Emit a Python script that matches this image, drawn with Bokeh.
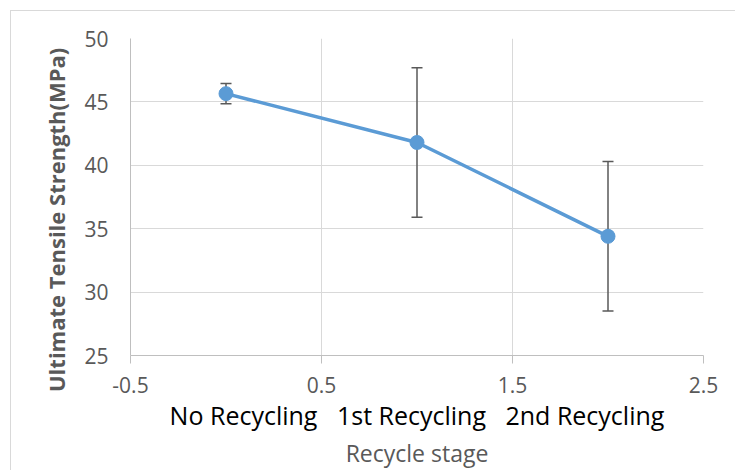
from bokeh.plotting import figure
from bokeh.models import (Range1d, FixedTicker, Whisker, ColumnDataSource, TeeHead, Title,
                          PrintfTickFormatter, InlineStyleSheet)
from bokeh.embed import file_html
from bokeh.resources import INLINE

# ---- data ----
categories = ["No Recycling", "1st Recycling", "2nd Recycling"]
stage = [0, 1, 2]
uts = [45.65, 41.8, 34.4]
uts_err = [0.8, 5.9, 5.9]
x_ticks = [-0.5, 0.5, 1.5, 2.5]
y_ticks = [25, 30, 35, 40, 45, 50]

upper = [v + e for v, e in zip(uts, uts_err)]
lower = [v - e for v, e in zip(uts, uts_err)]
src = ColumnDataSource(dict(x=stage, y=uts, upper=upper, lower=lower))

FONT = "Open Sans"
GRID = "#d9d9d9"
AXIS = "#bfbfbf"
TXT = "#595959"

css = InlineStyleSheet(css=""":host::after { content: ""; position: absolute; left: 10px; top: 10px;
  right: 0; bottom: 0; border-left: 1px solid #d9d9d9; border-top: 1px solid #d9d9d9;
  pointer-events: none; z-index: 10; }""")

p = figure(frame_width=573, frame_height=317, output_backend="svg", toolbar_location=None,
           x_range=Range1d(-0.5, 2.5), y_range=Range1d(25, 50),
           min_border_left=130, min_border_right=32, min_border_top=38, min_border_bottom=115,
           stylesheets=[css])
p.outline_line_color = None
p.background_fill_color = "white"
p.border_fill_color = "white"

p.xgrid.ticker = FixedTicker(ticks=x_ticks)
p.ygrid.ticker = FixedTicker(ticks=y_ticks)
for g in (p.xgrid, p.ygrid):
    g.grid_line_color = GRID
    g.grid_line_width = 1

xa = p.xaxis[0]
xa.ticker = FixedTicker(ticks=x_ticks)
xa.formatter = PrintfTickFormatter(format="%.1f")
xa.axis_line_color = AXIS
xa.major_tick_line_color = AXIS
xa.major_tick_out = 8
xa.major_tick_in = 0
xa.minor_tick_line_color = None
xa.major_label_text_font = FONT
xa.major_label_text_font_size = "21px"
xa.major_label_text_color = TXT
xa.major_label_standoff = 13
xa.axis_label = "\u00a0\u00a0 ".join(categories)
xa.axis_label_text_font = FONT
xa.axis_label_text_font_size = "25px"
xa.axis_label_text_font_style = "normal"
xa.axis_label_text_color = "black"
xa.axis_label_standoff = 2

ya = p.yaxis[0]
ya.ticker = FixedTicker(ticks=y_ticks)
ya.axis_line_color = AXIS
ya.major_tick_line_color = None
ya.major_tick_out = 0
ya.major_tick_in = 0
ya.minor_tick_line_color = None
ya.major_label_text_font = FONT
ya.major_label_text_font_size = "21px"
ya.major_label_text_color = TXT
ya.major_label_standoff = 22
# trailing no-break spaces push the rotated title down to where the reference draws it
ya.axis_label = "Ultimate Tensile Strength(MPa)" + "\u00a0" * 8
ya.axis_label_text_font = FONT
ya.axis_label_text_font_size = "22px"
ya.axis_label_text_font_style = "bold"
ya.axis_label_text_color = TXT
ya.axis_label_standoff = 10

t = Title(text="Recycle stage", align="center", text_font=FONT, text_font_size="23px",
          text_font_style="normal", text_color=TXT, standoff=0)
p.add_layout(t, "below")

p.add_layout(Whisker(source=src, base="x", upper="upper", lower="lower",
                     line_color=TXT, line_width=1.5,
                     upper_head=TeeHead(size=11, line_color=TXT, line_width=1.5),
                     lower_head=TeeHead(size=11, line_color=TXT, line_width=1.5)))
p.line("x", "y", source=src, line_color="#5b9bd5", line_width=3.5)
p.scatter("x", "y", source=src, size=14, fill_color="#5b9bd5", line_color="#5b9bd5")

open("out.html", "w").write(file_html(p, INLINE))
